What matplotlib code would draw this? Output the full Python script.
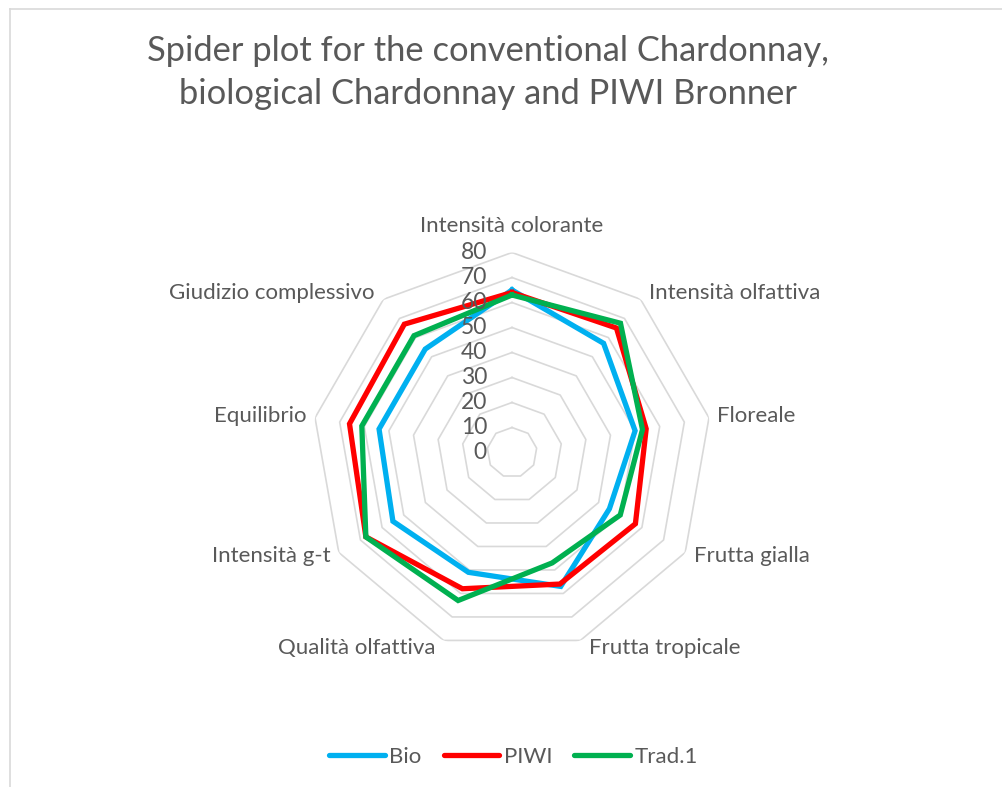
import numpy as np
import matplotlib.pyplot as plt
from matplotlib.lines import Line2D
from matplotlib.transforms import ScaledTranslation

categories = ['Intensità colorante', 'Intensità olfattiva', 'Floreale', 'Frutta gialla',
              'Frutta tropicale', 'Qualità olfattiva', 'Intensità g-t', 'Equilibrio',
              'Giudizio complessivo']
bio = [65, 57, 50, 45, 57, 51, 55, 54, 54]
piwi = [64, 65, 54.5, 57, 56, 58, 67.5, 66, 67]
trad = [63, 67.5, 53, 50, 47, 63, 67.5, 61, 61]
rings = [0, 10, 20, 30, 40, 50, 60, 70, 80]

plt.rcParams['font.family'] = ['Lato', 'DejaVu Sans']
txt = '#595959'
gridc = '#D9D9D9'

fig = plt.figure(figsize=(10.03, 7.87), dpi=100)
ax = fig.add_axes([312 / 1003, 134.5 / 787, 400 / 1003, 400 / 787], projection='polar')
ax.set_theta_offset(np.pi / 2)
ax.set_theta_direction(-1)
ax.set_ylim(0, 80)
ax.grid(False)
ax.spines['polar'].set_visible(False)
ax.set_xticks([])
ax.set_yticks([])

n = len(categories)
ang = np.linspace(0, 2 * np.pi, n, endpoint=False)
ang_c = np.append(ang, ang[0])

# griglia poligonale
for r in rings[1:]:
    ax.plot(ang_c, [r] * (n + 1), color=gridc, lw=1.2, zorder=1)

# serie
for vals, col, lab in [(bio, '#00B0F0', 'Bio'), (piwi, '#FF0000', 'PIWI'), (trad, '#00B050', 'Trad.1')]:
    v = np.append(vals, vals[0])
    ax.plot(ang_c, v, color=col, lw=3.8, label=lab, zorder=3, solid_joinstyle='miter')

# etichette asse radiale
off = ax.transData + ScaledTranslation(-0.25, 0, fig.dpi_scale_trans)
for r in rings:
    ax.text(0, r, str(r), transform=off, ha='right', va='center', fontsize=16.5, color=txt)

# etichette categorie
for a, c in zip(ang, categories):
    s, co = np.sin(a), np.cos(a)
    if abs(s) < 0.01:
        ha, dx, dy = 'center', 0, 0.27
    else:
        ha = 'left' if s > 0 else 'right'
        dx, dy = 0.085 * np.sign(s), 0.08 * co
    t = ax.transData + ScaledTranslation(dx, dy, fig.dpi_scale_trans)
    ax.text(a, 80, c, transform=t, ha=ha, va='center', fontsize=16, color=txt)

fig.text(0.487, 1 - 51 / 787, 'Spider plot for the conventional Chardonnay,', ha='center', va='center',
         fontsize=24.8, color=txt)
fig.text(0.487, 1 - 94 / 787, 'biological Chardonnay and PIWI Bronner', ha='center', va='center',
         fontsize=24.8, color=txt)

leg = fig.legend(loc='center', bbox_to_anchor=(0.512, 1 - 757 / 787), ncol=3, frameon=False,
                 fontsize=16, handlelength=2.5, handletextpad=0.2, columnspacing=1.0)
for t in leg.get_texts():
    t.set_color(txt)
for h in leg.get_lines():
    h.set_solid_capstyle('round')

# bordo
fig.add_artist(Line2D([10 / 1003, 10 / 1003], [0, 1 - 9 / 787], color=gridc, lw=1.2))
fig.add_artist(Line2D([10 / 1003, 1], [1 - 9 / 787, 1 - 9 / 787], color=gridc, lw=1.2))

fig.savefig('out.png')
